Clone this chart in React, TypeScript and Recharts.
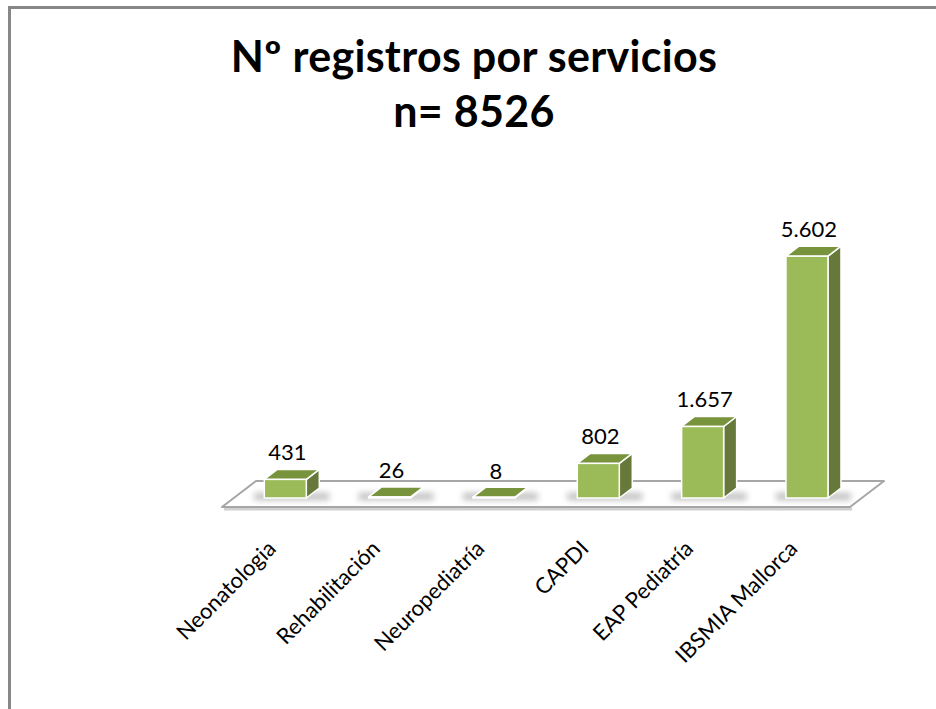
import { BarChart, Bar, XAxis, YAxis, LabelList, Customized } from "recharts";

const CATEGORIES = [
  "Neonatologia",
  "Rehabilitación",
  "Neuropediatría",
  "CAPDI",
  "EAP Pediatría",
  "IBSMIA Mallorca",
];
const REGISTROS = [431, 26, 8, 802, 1657, 5602];
const TITLE_LINES = ["Nº registros por servicios", "n= 8526"];
const Y_MAX = 6000;

const W = 936;
const H = 709;
const MARGIN = { top: 239, right: 77, bottom: 181, left: 233 };
const X_AXIS_H = 30;
const PLOT_LEFT = MARGIN.left;
const PLOT_RIGHT = W - MARGIN.right;
const BASE_Y = H - MARGIN.bottom - X_AXIS_H;

// depth of the fake 3d
const DX = 13;
const DY = 10;

const FONT = "Lato, Carlito, 'Open Sans', sans-serif";
const FRONT = "#9bbb59";
const TOP = "#77933c";
const SIDE = "#66793a";

const data = CATEGORIES.map((name, i) => ({ name, value: REGISTROS[i] }));

function fmt(v: number): string {
  return String(v).replace(/\B(?=(\d{3})+(?!\d))/g, ".");
}

function Bar3D(props: any) {
  const { x, width, height } = props;
  const w = width;
  const h = Math.max(height, 0.8);
  const top = BASE_Y - h;
  return (
    <g>
      <rect
        x={x - 10}
        y={BASE_Y - 5}
        width={w + DX + 20}
        height={7}
        fill="#8a8a8a"
        opacity={0.55}
        filter="url(#shadowBlur)"
      />
      <polygon
        points={`${x + w},${top} ${x + w + DX},${top - DY} ${x + w + DX},${BASE_Y - DY} ${x + w},${BASE_Y}`}
        fill={SIDE}
        stroke="#fff"
        strokeWidth={1.5}
        strokeLinejoin="round"
      />
      <polygon
        points={`${x},${top} ${x + DX},${top - DY} ${x + w + DX},${top - DY} ${x + w},${top}`}
        fill={TOP}
        stroke="#fff"
        strokeWidth={1.5}
        strokeLinejoin="round"
      />
      <rect x={x} y={top} width={w} height={h} fill={FRONT} stroke="#fff" strokeWidth={1.5} />
    </g>
  );
}

function ValueLabel(props: any) {
  const { x, y, width, value } = props;
  return (
    <text
      x={x + width / 2 + 2}
      y={y - DY - 9}
      textAnchor="middle"
      fontFamily={FONT}
      fontSize={22}
      fill="#000"
    >
      {fmt(value)}
    </text>
  );
}

function CategoryTick(props: any) {
  const { x, payload } = props;
  return (
    <g transform={`translate(${x - 8},${BASE_Y + 52})`}>
      <text
        transform="rotate(-45)"
        textAnchor="end"
        fontFamily={FONT}
        fontSize={22}
        fill="#000"
      >
        {payload.value}
      </text>
    </g>
  );
}

function Floor() {
  const fl = PLOT_LEFT - 11;
  const fr = PLOT_RIGHT - 9;
  const fy = BASE_Y + 9;
  const by = BASE_Y - 17;
  const d = 34;
  return (
    <g>
      <defs>
        <filter id="shadowBlur" x="-50%" y="-200%" width="200%" height="500%">
          <feGaussianBlur stdDeviation="3" />
        </filter>
      </defs>
      <line x1={fl + 2} y1={fy + 2} x2={fr + 2} y2={fy + 2} stroke="#d0d0d0" strokeWidth={3} />
      <polygon
        points={`${fl},${fy} ${fl + d},${by} ${fr + d},${by} ${fr},${fy}`}
        fill="#fff"
        stroke="#a6a6a6"
        strokeWidth={2}
        strokeLinejoin="round"
      />
    </g>
  );
}

function Title() {
  return (
    <g fontFamily={FONT} fontWeight="bold" fill="#000" textAnchor="middle">
      <text x={474} y={72} fontSize={43} letterSpacing={0.3}>
        {TITLE_LINES[0]}
      </text>
      <text x={474} y={127} fontSize={43} letterSpacing={0.3}>
        {TITLE_LINES[1]}
      </text>
    </g>
  );
}

export default function App() {
  return (
    <div
      style={{
        position: "fixed",
        left: 0,
        top: 0,
        width: W,
        height: H,
        overflow: "hidden",
        background: "#fff",
      }}
    >
      <div
        style={{
          position: "absolute",
          left: 8,
          top: 6,
          width: 1000,
          height: 800,
          borderTop: "3px solid #878787",
          borderLeft: "3px solid #878787",
        }}
      />
      <div style={{ position: "absolute", left: 0, top: 0 }}>
        <BarChart width={W} height={H} data={data} margin={MARGIN} barCategoryGap="30%">
          <Customized component={<Floor />} />
          <Customized component={<Title />} />
          <XAxis
            dataKey="name"
            axisLine={false}
            tickLine={false}
            interval={0}
            height={X_AXIS_H}
            tick={<CategoryTick />}
          />
          <YAxis hide domain={[0, Y_MAX]} />
          <Bar dataKey="value" shape={<Bar3D />} isAnimationActive={false}>
            <LabelList dataKey="value" content={<ValueLabel />} />
          </Bar>
        </BarChart>
      </div>
    </div>
  );
}
